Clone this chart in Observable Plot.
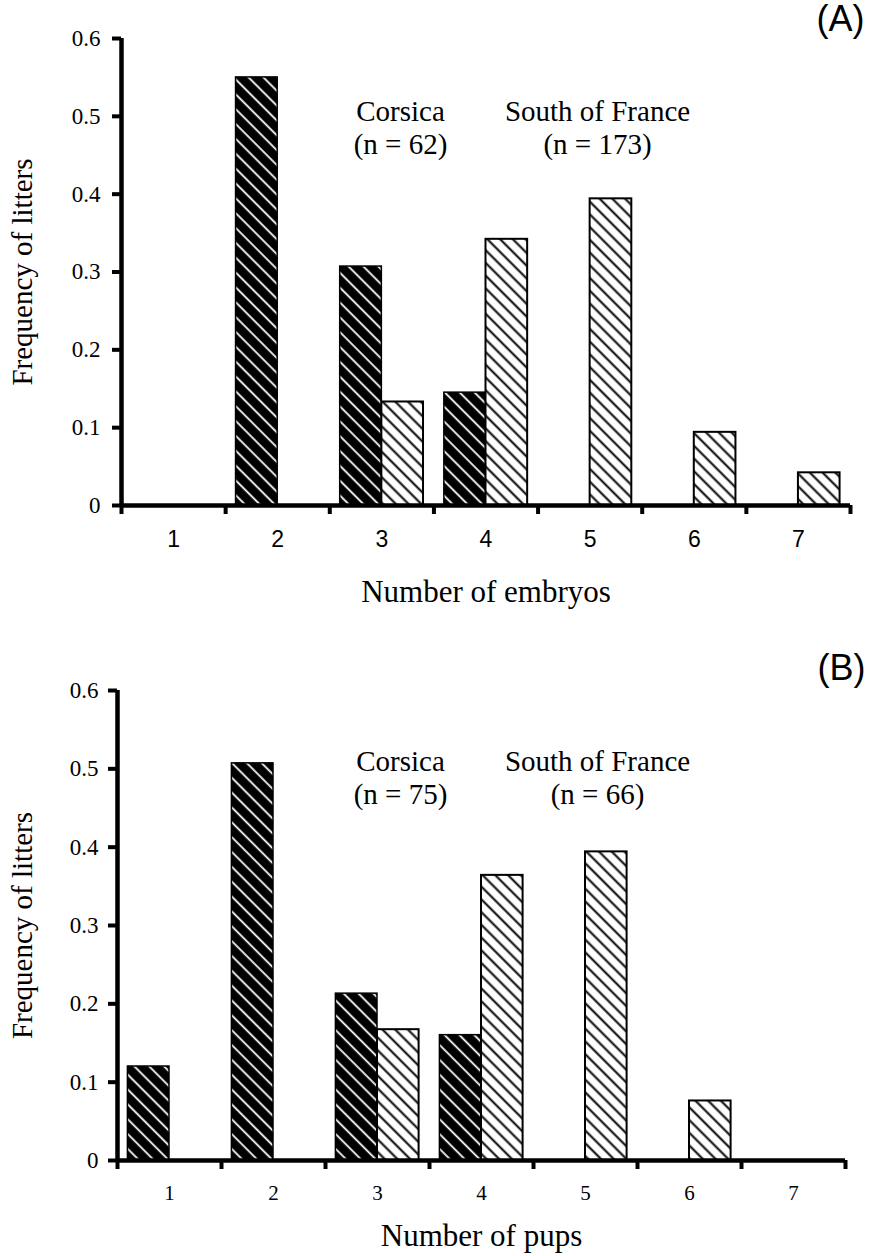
<!DOCTYPE html>
<html>
<head>
<meta charset="utf-8">
<script src="https://cdn.jsdelivr.net/npm/d3@7"></script>
<script src="https://cdn.jsdelivr.net/npm/@observablehq/plot@0.6"></script>
<style>
  body { margin: 0; background: #fff; }
  #chart { width: 870px; }
  #chart svg { display: block; }
</style>
</head>
<body>
<div id="chart"></div>
<script>
// ---- data ----
const litterSizes = [1, 2, 3, 4, 5, 6, 7];
const groups = ["Corsica", "South of France"];
const yTicks = [0, 0.1, 0.2, 0.3, 0.4, 0.5, 0.6];

const embryosCorsica = [0, 0.55, 0.307, 0.145, 0, 0, 0];
const embryosFrance  = [0, 0, 0.133, 0.342, 0.394, 0.094, 0.042];
const pupsCorsica    = [0.12, 0.507, 0.213, 0.16, 0, 0, 0];
const pupsFrance     = [0, 0, 0.167, 0.364, 0.394, 0.076, 0];

const panelTags = ["(A)", "(B)"];
const xLabels = ["Number of embryos", "Number of pups"];
const yLabel = "Frequency of litters";
const nCorsica = [62, 75];
const nFrance = [173, 66];

// ---- drawing ----
const SERIF = "'Liberation Serif', 'Times New Roman', serif";
const SANS = "'Liberation Sans', Arial, sans-serif";

function addPatterns(svg, id) {
  const defs = d3.select(svg).insert("defs", ":first-child");
  const dark = defs.append("pattern")
    .attr("id", "dark" + id).attr("patternUnits", "userSpaceOnUse")
    .attr("width", 10.5).attr("height", 10.5)
    .attr("patternTransform", "rotate(45)");
  dark.append("rect").attr("width", 10.5).attr("height", 10.5).attr("fill", "#000");
  dark.append("line").attr("x1", -1).attr("x2", 12).attr("y1", 5).attr("y2", 5)
    .attr("stroke", "#fff").attr("stroke-width", 1.8);
  const light = defs.append("pattern")
    .attr("id", "light" + id).attr("patternUnits", "userSpaceOnUse")
    .attr("width", 9).attr("height", 9)
    .attr("patternTransform", "rotate(45)");
  light.append("rect").attr("width", 9).attr("height", 9).attr("fill", "#fff");
  light.append("line").attr("x1", -1).attr("x2", 10).attr("y1", 4.5).attr("y2", 4.5)
    .attr("stroke", "#000").attr("stroke-width", 2);
}

function panel(k, corsica, france, L) {
  const id = "p" + k;
  const rowsC = litterSizes.map((s, i) => ({size: s, group: groups[0], value: corsica[i]})).filter(d => d.value > 0);
  const rowsF = litterSizes.map((s, i) => ({size: s, group: groups[1], value: france[i]})).filter(d => d.value > 0);
  const bounds = [litterSizes[0] - 0.5, ...litterSizes.map(d => d + 0.5)];
  const H = 628;
  const svg = Plot.plot({
    width: 870,
    height: H,
    marginLeft: L.left,
    marginRight: 870 - L.right,
    marginTop: L.top,
    marginBottom: H - L.bottom,
    x: {domain: [bounds[0], bounds[bounds.length - 1]], axis: null},
    y: {domain: [0, 0.6], axis: null},
    style: {fontFamily: SERIF, fontSize: "23px", color: "#000", background: "#fff", overflow: "visible"},
    marks: [
      Plot.rect(rowsC, {x1: d => d.size - 0.4, x2: d => d.size, y1: 0, y2: "value",
        fill: `url(#dark${id})`, stroke: "#000", strokeWidth: 1.5}),
      Plot.rect(rowsF, {x1: d => d.size, x2: d => d.size + 0.4, y1: 0, y2: "value",
        fill: `url(#light${id})`, stroke: "#000", strokeWidth: 2}),
      Plot.ruleX([bounds[0]], {y1: 0, y2: 0.6, strokeWidth: 4.5}),
      Plot.ruleY([0], {x1: bounds[0], x2: bounds[bounds.length - 1], strokeWidth: 4.5}),
      Plot.axisY({ticks: yTicks, tickSize: 9, tickPadding: L.yPad, strokeWidth: 4, label: null,
        tickFormat: d => d === 0 ? "0" : d3.format(".1f")(d), fontSize: 23, fontFamily: SERIF}),
      Plot.axisX({ticks: bounds, tickSize: 9, strokeWidth: 4, tickFormat: () => "", label: null}),
      Plot.axisX({ticks: litterSizes, tickSize: 0, tickPadding: L.xPad, tickFormat: d => String(d), label: null,
        fontSize: L.xFont, fontFamily: L.xFamily}),
      Plot.text([xLabels[k]], {frameAnchor: "bottom", lineAnchor: "middle", dy: L.xLabelDy, fontSize: 31, fontFamily: SERIF}),
      Plot.text([yLabel], {frameAnchor: "left", textAnchor: "middle", lineAnchor: "middle", rotate: -90,
        dx: L.yLabelDx, fontSize: 29, fontFamily: SERIF}),
      Plot.text([`${groups[0]}\n(n = ${nCorsica[k]})`], {frameAnchor: "top-left", textAnchor: "middle", lineAnchor: "middle",
        dx: L.cDx, dy: L.labDy, lineHeight: 1.15, fontSize: 29, fontFamily: SERIF}),
      Plot.text([`${groups[1]}\n(n = ${nFrance[k]})`], {frameAnchor: "top-left", textAnchor: "middle", lineAnchor: "middle",
        dx: L.fDx, dy: L.labDy, lineHeight: 1.15, fontSize: 29, fontFamily: SERIF}),
      Plot.text([panelTags[k]], {frameAnchor: "top-right", textAnchor: "end", lineAnchor: "middle",
        dx: L.tagDx, dy: L.tagDy, fontSize: 36, fontFamily: SANS})
    ]
  });
  addPatterns(svg, id);
  return svg;
}

const chart = document.getElementById("chart");
chart.appendChild(panel(0, embryosCorsica, embryosFrance, {
  left: 121, right: 850, top: 38, bottom: 505, yPad: 12, xPad: 25, xFont: 23, xFamily: SANS,
  xLabelDy: 87, yLabelDx: -99, cDx: 279, fDx: 476, labDy: 88, tagDx: 14, tagDy: -19
}));
chart.appendChild(panel(1, pupsCorsica, pupsFrance, {
  left: 117, right: 845, top: 62, bottom: 532, yPad: 10, xPad: 25, xFont: 21, xFamily: SERIF,
  xLabelDy: 76, yLabelDx: -95, cDx: 283, fDx: 480, labDy: 86, tagDx: 20, tagDy: -22
}));
</script>
</body>
</html>
